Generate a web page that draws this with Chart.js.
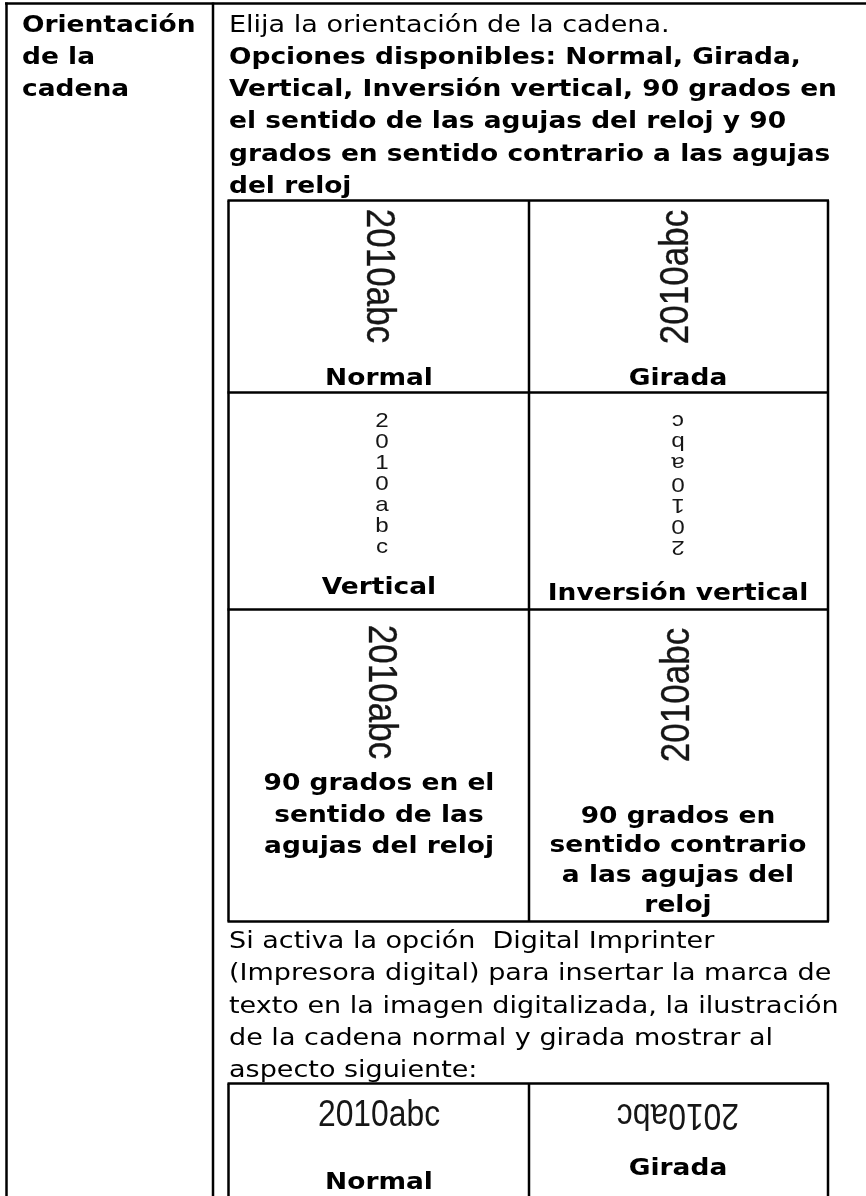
<!DOCTYPE html>
<html>
<head>
<meta charset="utf-8">
<script src="https://cdn.jsdelivr.net/npm/chart.js@4.4.1/dist/chart.umd.min.js"></script>
<style>
  html, body { margin: 0; padding: 0; background: #fff; }
  canvas { display: block; }
</style>
</head>
<body>
<canvas id="orientationTable" width="866" height="1196"></canvas>
<script>
// table content
const headerLines = ['Orientación', 'de la', 'cadena'];
const introLine = 'Elija la orientación de la cadena.';
const optionLines = [
    'Opciones disponibles: Normal, Girada,',
    'Vertical, Inversión vertical, 90 grados en',
    'el sentido de las agujas del reloj y 90',
    'grados en sentido contrario a las agujas',
    'del reloj'
];
const sampleText = '2010abc';
const orientationModes = ['cw', 'ccw', 'stack', 'stackFlip', 'cw', 'ccw'];
const orientationLabels = [
    ['Normal'],
    ['Girada'],
    ['Vertical'],
    ['Inversión vertical'],
    ['90 grados en el', 'sentido de las', 'agujas del reloj'],
    ['90 grados en', 'sentido contrario', 'a las agujas del', 'reloj']
];
const noteLines = [
    'Si activa la opción  Digital Imprinter',
    '(Impresora digital) para insertar la marca de',
    'texto en la imagen digitalizada, la ilustración',
    'de la cadena normal y girada mostrar al',
    'aspecto siguiente:'
];
const imprinterModes = ['plain', 'flip'];
const imprinterLabels = ['Normal', 'Girada'];

// the scanned page is a little wider than tall, so glyphs get a horizontal stretch
const STRETCH = 1.15;
const INK = '#000';
const SAMPLE_INK = '#161616';

function drawText(ctx, str, x, y, font, align) {
    ctx.save();
    ctx.font = font;
    ctx.fillStyle = INK;
    ctx.textAlign = align || 'left';
    ctx.textBaseline = 'alphabetic';
    ctx.translate(x, y);
    ctx.scale(STRETCH, 1);
    ctx.fillText(str, 0, 0);
    ctx.restore();
}

function drawSample(ctx, mode, cx, cy) {
    ctx.save();
    ctx.fillStyle = SAMPLE_INK;
    ctx.strokeStyle = SAMPLE_INK;
    ctx.textAlign = 'center';
    ctx.translate(cx, cy);
    if (mode === 'cw' || mode === 'ccw') {
        ctx.scale(STRETCH, 1);
        ctx.rotate(mode === 'cw' ? Math.PI / 2 : -Math.PI / 2);
        ctx.textBaseline = 'middle';
        ctx.font = '35px "Liberation Sans", Arial, sans-serif';
        ctx.lineWidth = 0.3;
        ctx.fillText(sampleText, 0, 0);
        ctx.strokeText(sampleText, 0, 0);
    } else if (mode === 'stack' || mode === 'stackFlip') {
        ctx.scale(STRETCH, 1);
        if (mode === 'stackFlip') ctx.rotate(Math.PI);
        ctx.textBaseline = 'alphabetic';
        ctx.font = '21px "Liberation Sans", Arial, sans-serif';
        sampleText.split('').forEach((ch, i) => {
            ctx.fillText(ch, 0, -55.5 + i * 21);
        });
    } else {
        // narrower face in the imprinter preview
        ctx.scale(0.86, 1);
        if (mode === 'flip') ctx.rotate(Math.PI);
        ctx.textBaseline = 'middle';
        ctx.font = '37px "Liberation Sans", Arial, sans-serif';
        ctx.fillText(sampleText, 0, 0);
    }
    ctx.restore();
}

function line(ctx, x1, y1, x2, y2, w) {
    ctx.save();
    ctx.strokeStyle = INK;
    ctx.lineWidth = w;
    ctx.beginPath();
    ctx.moveTo(x1, y1);
    ctx.lineTo(x2, y2);
    ctx.stroke();
    ctx.restore();
}

const tablePlugin = {
    id: 'orientationTable',
    afterDraw(chart) {
        const ctx = chart.ctx;
        const X = v => chart.scales.x.getPixelForValue(v);
        const Y = v => chart.scales.y.getPixelForValue(v);

        const bold = 'bold 23px "DejaVu Sans", Verdana, sans-serif';
        const regular = '23.5px "DejaVu Sans", Verdana, sans-serif';
        const labelFont = 'bold 23px "DejaVu Sans", Verdana, sans-serif';

        // outer frame
        line(ctx, X(5), Y(3.5), X(866), Y(3.5), 2.5);
        line(ctx, X(6.5), Y(2.5), X(6.5), Y(1196), 2.5);
        line(ctx, X(213), Y(2.5), X(213), Y(1196), 2.5);

        // left header
        headerLines.forEach((t, i) => drawText(ctx, t, X(22), Y(31.5 + i * 32.3), bold));

        // description
        drawText(ctx, introLine, X(229), Y(31.5), regular);
        optionLines.forEach((t, i) => drawText(ctx, t, X(229), Y(63.8 + i * 32.3), bold));

        // orientation grid
        const colL = 228.5, colM = 529, colR = 828;
        const rows = [200.5, 392.5, 609.5, 921.5];
        rows.forEach(r => line(ctx, X(colL - 1), Y(r), X(colR + 1), Y(r), 2.5));
        [colL, colM, colR].forEach(c => line(ctx, X(c), Y(rows[0]), X(c), Y(rows[3]), 2.5));

        const centers = [379, 678];
        const sampleY = [276, 277, 482, 485, 692, 695];
        const sampleX = [378, 677, 382, 678, 380, 678];
        const labelY = [[385], [385], [594], [600], [790, 822, 853], [823, 852, 882, 912]];
        orientationModes.forEach((mode, i) => {
            drawSample(ctx, mode, X(sampleX[i]), Y(sampleY[i]));
            orientationLabels[i].forEach((t, j) => {
                drawText(ctx, t, X(centers[i % 2]), Y(labelY[i][j]), labelFont, 'center');
            });
        });

        // note paragraph
        noteLines.forEach((t, i) => drawText(ctx, t, X(229), Y(948 + i * 32.3), regular));

        // imprinter grid
        const top2 = 1083.5;
        line(ctx, X(colL - 1), Y(top2), X(colR + 1), Y(top2), 2.5);
        [colL, colM, colR].forEach(c => line(ctx, X(c), Y(top2), X(c), Y(1196), 2.5));
        const impY = [1116, 1114];
        const impLabelY = [1189, 1175];
        imprinterModes.forEach((mode, i) => {
            drawSample(ctx, mode, X(centers[i]), Y(impY[i]));
            drawText(ctx, imprinterLabels[i], X(centers[i]), Y(impLabelY[i]), labelFont, 'center');
        });
    }
};

new Chart(document.getElementById('orientationTable'), {
    type: 'scatter',
    data: { datasets: [] },
    options: {
        responsive: false,
        animation: false,
        events: [],
        layout: { padding: 0 },
        plugins: {
            legend: { display: false },
            tooltip: { enabled: false }
        },
        scales: {
            x: { type: 'linear', min: 0, max: 866, display: false },
            y: { type: 'linear', min: 0, max: 1196, reverse: true, display: false }
        }
    },
    plugins: [tablePlugin]
});
</script>
</body>
</html>
